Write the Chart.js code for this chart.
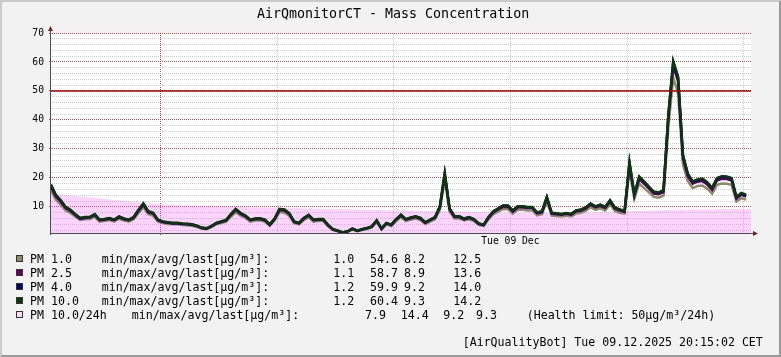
<!DOCTYPE html>
<html>
<head>
<meta charset="utf-8">
<script src="https://cdn.jsdelivr.net/npm/chart.js@4/dist/chart.umd.min.js"></script>
<style>
html, body { margin: 0; padding: 0; background: #f2f2f2; }
#wrap { position: relative; width: 781px; height: 357px; background: #f2f2f2; overflow: hidden;
        font-family: "DejaVu Sans Mono", monospace; color: #000; }
#chart { position: absolute; left: 0; top: 0; }
#frame { position: absolute; left: 0; top: 0; width: 781px; height: 357px; box-sizing: border-box;
         border-style: solid; border-width: 2px; border-color: #cbcbcb #999 #999 #cbcbcb; pointer-events: none; }
#title { position: absolute; left: 257px; top: 6px; font-size: 13.3px; line-height: 16px; white-space: pre; }
.t { position: absolute; white-space: pre; font-size: 11.6px; line-height: 14px; }
.sw { position: absolute; width: 5px; height: 5px; border: 1px solid #333; }
</style>
</head>
<body>
<div id="wrap">
  <canvas id="chart" width="781" height="357"></canvas>
  <div id="title">AirQmonitorCT - Mass Concentration</div>
  <div id="legend"></div>
  <div id="frame"></div>
</div>
<script>
// --- DATA (hours relative to midnight of Tue 09 Dec, 10 minute samples) ---
const startHour = -3.75;
const endHour = 20.25;
const stepHours = 1 / 6;
const avgStepHours = 1;

const pm1 = [15.6, 12.5, 10.8, 8.8, 7.9, 6.6, 5.5, 5.7, 5.8, 6.6, 4.9, 5.1, 5.5, 4.9, 5.9, 5.3, 4.9, 5.7, 7.9, 9.9,
  7.5, 7.0, 4.9, 4.4, 4.1, 4.0, 4.0, 3.8, 3.7, 3.5, 3.1, 2.5, 2.3, 3.0, 4.0, 4.4, 4.8, 6.6, 8.2, 7.0,
  6.2, 4.9, 5.3, 5.4, 4.9, 3.5, 5.3, 8.2, 8.0, 7.0, 4.4, 4.0, 5.5, 6.4, 4.9, 5.1, 5.1, 3.3, 2.0, 1.6,
  1.0, 1.4, 2.2, 1.6, 2.0, 2.4, 2.9, 4.8, 2.2, 4.0, 3.4, 5.1, 6.4, 5.1, 5.6, 6.0, 5.5, 4.1, 4.9, 5.7,
  9.0, 19.5, 8.4, 6.0, 6.0, 5.3, 5.7, 5.1, 3.8, 3.4, 5.7, 7.5, 8.4, 9.2, 9.2, 7.7, 9.0, 9.0, 8.8, 8.8,
  7.1, 7.5, 11.9, 7.0, 6.9, 6.7, 7.0, 6.7, 7.7, 8.0, 8.6, 9.9, 9.0, 9.5, 8.8, 10.8, 8.6, 8.0, 7.7, 22.6,
  12.8, 18.0, 16.5, 15.0, 13.5, 13.2, 13.9, 37.5, 54.6, 49.2, 24.6, 18.9, 16.5, 17.2, 17.4, 16.3, 14.6, 17.6, 18.1, 18.0,
  17.6, 11.9, 13.0, 12.5];

const pm25 = [16.9, 13.6, 11.8, 9.6, 8.6, 7.2, 5.9, 6.2, 6.3, 7.2, 5.4, 5.6, 5.9, 5.4, 6.4, 5.7, 5.4, 6.2, 8.6, 10.7,
  8.1, 7.7, 5.4, 4.8, 4.5, 4.3, 4.3, 4.1, 4.0, 3.8, 3.4, 2.7, 2.5, 3.3, 4.3, 4.8, 5.3, 7.2, 8.9, 7.6,
  6.7, 5.4, 5.7, 5.8, 5.4, 3.8, 5.7, 8.9, 8.7, 7.6, 4.8, 4.3, 5.9, 7.0, 5.4, 5.6, 5.6, 3.6, 2.2, 1.7,
  1.1, 1.5, 2.4, 1.7, 2.2, 2.6, 3.2, 5.2, 2.4, 4.3, 3.7, 5.6, 7.0, 5.6, 6.1, 6.5, 5.9, 4.5, 5.4, 6.2,
  9.8, 20.8, 9.1, 6.5, 6.5, 5.7, 6.2, 5.6, 4.1, 3.7, 6.2, 8.1, 9.1, 10.0, 10.0, 8.4, 9.8, 9.8, 9.6, 9.6,
  7.8, 8.1, 12.9, 7.7, 7.5, 7.3, 7.6, 7.3, 8.4, 8.7, 9.4, 10.7, 9.8, 10.3, 9.6, 11.8, 9.4, 8.7, 8.3, 24.4,
  13.9, 19.6, 18.0, 16.3, 14.6, 14.4, 15.1, 40.6, 58.7, 53.2, 26.8, 20.6, 18.0, 18.7, 18.9, 17.7, 15.9, 19.1, 19.7, 19.6,
  19.1, 12.9, 14.2, 13.6];

const pm4 = [17.5, 14.0, 12.2, 9.9, 8.9, 7.4, 6.1, 6.4, 6.5, 7.4, 5.5, 5.7, 6.1, 5.5, 6.6, 5.9, 5.5, 6.4, 8.9, 11.1,
  8.4, 7.9, 5.5, 4.9, 4.6, 4.4, 4.4, 4.2, 4.1, 3.9, 3.5, 2.8, 2.6, 3.4, 4.4, 4.9, 5.4, 7.4, 9.2, 7.8,
  6.9, 5.5, 5.9, 6.0, 5.5, 3.9, 5.9, 9.2, 9.0, 7.8, 4.9, 4.4, 6.1, 7.2, 5.5, 5.7, 5.7, 3.7, 2.3, 1.8,
  1.2, 1.6, 2.5, 1.8, 2.3, 2.7, 3.3, 5.3, 2.5, 4.4, 3.8, 5.7, 7.2, 5.7, 6.3, 6.7, 6.1, 4.6, 5.5, 6.4,
  10.1, 21.5, 9.4, 6.7, 6.7, 5.9, 6.4, 5.7, 4.2, 3.8, 6.4, 8.4, 9.4, 10.4, 10.4, 8.7, 10.1, 10.1, 9.9, 9.9,
  8.0, 8.4, 13.3, 7.9, 7.7, 7.5, 7.8, 7.5, 8.7, 9.0, 9.7, 11.1, 10.1, 10.7, 9.9, 12.2, 9.7, 9.0, 8.6, 25.2,
  14.3, 20.3, 18.6, 16.8, 15.1, 14.8, 15.6, 41.6, 59.9, 54.5, 27.7, 21.3, 18.6, 19.3, 19.6, 18.3, 16.4, 19.8, 20.4, 20.3,
  19.8, 13.4, 14.6, 14.0];

const pm10 = [17.7, 14.2, 12.3, 10.0, 9.0, 7.5, 6.2, 6.5, 6.6, 7.5, 5.6, 5.8, 6.2, 5.6, 6.7, 6.0, 5.6, 6.5, 9.0, 11.2,
  8.5, 8.0, 5.6, 5.0, 4.7, 4.5, 4.5, 4.3, 4.2, 4.0, 3.5, 2.8, 2.6, 3.4, 4.5, 5.0, 5.5, 7.5, 9.3, 7.9,
  7.0, 5.6, 6.0, 6.1, 5.6, 4.0, 6.0, 9.3, 9.1, 7.9, 5.0, 4.5, 6.2, 7.3, 5.6, 5.8, 5.8, 3.8, 2.3, 1.8,
  1.2, 1.6, 2.5, 1.8, 2.3, 2.7, 3.3, 5.4, 2.5, 4.5, 3.9, 5.8, 7.3, 5.8, 6.4, 6.8, 6.2, 4.7, 5.6, 6.5,
  10.2, 21.7, 9.5, 6.8, 6.8, 6.0, 6.5, 5.8, 4.3, 3.9, 6.5, 8.5, 9.5, 10.5, 10.5, 8.8, 10.2, 10.2, 10.0, 10.0,
  8.1, 8.5, 13.5, 8.0, 7.8, 7.6, 7.9, 7.6, 8.8, 9.1, 9.8, 11.2, 10.2, 10.8, 10.0, 12.3, 9.8, 9.1, 8.7, 25.5,
  14.5, 20.5, 18.8, 17.0, 15.3, 15.0, 15.8, 42.0, 60.4, 55.0, 28.0, 21.5, 18.8, 19.5, 19.8, 18.5, 16.6, 20.0, 20.6, 20.5,
  20.0, 13.5, 14.8, 14.2];

// PM 10.0 rolling 24h mean, hourly
const pm10avg24 = [14.6, 13.6, 12.6, 11.5, 10.7, 10.3, 10.1, 9.8, 9.6, 9.4, 9.2, 9.0, 8.8, 8.6, 8.4, 8.2, 8.0, 7.9, 8.0, 8.2,
  8.6, 8.9, 9.1, 9.2, 9.3];

const healthLimit = 50;

const yTicks = [2, 4, 6, 8, 10, 12, 14, 16, 18, 20, 22, 24, 26, 28, 30, 32, 34, 36, 38, 40,
  42, 44, 46, 48, 50, 52, 54, 56, 58, 60, 62, 64, 66, 68, 70];
const xTicks = [0, 4, 8, 12, 16, 20];
const xLabelHours = [12];
const xLabelTexts = ["Tue 09 Dec"];

const seriesNames = ["PM 1.0", "PM 2.5", "PM 4.0", "PM 10.0", "PM 10.0/24h"];
const seriesColors = ["#8c8c68", "#660066", "#000070", "#0b380b", "#f9d9f9"];
const statMin = [1.0, 1.1, 1.2, 1.2, 7.9];
const statMax = [54.6, 58.7, 59.9, 60.4, 14.4];
const statAvg = [8.2, 8.9, 9.2, 9.3, 9.2];
const statLast = [12.5, 13.6, 14.0, 14.2, 9.3];
const unitLabel = "min/max/avg/last[µg/m³]:";
const healthNote = "(Health limit: 50µg/m³/24h)";
const footer = "[AirQualityBot] Tue 09.12.2025 20:15:02 CET";

// --- STYLE ---
const majorGrid = "rgba(205,45,45,0.9)";
const minorGrid = "#cccccc";
const axisColor = "#4e4a55";
const arrowColor = "#7f1f1f";
const monoFont = "DejaVu Sans Mono";

function toPoints(values, step) {
    return values.map((v, i) => ({ x: startHour + i * step, y: v }));
}

// --- PLUGINS ---
const canvasBack = {
    id: "canvasBack",
    beforeDraw(chart) {
        const { ctx, chartArea: a } = chart;
        ctx.save();
        ctx.fillStyle = "#ffffff";
        ctx.fillRect(a.left, a.top, a.right - a.left, a.bottom - a.top);
        ctx.restore();
    }
};

// axis lines + arrows (rrdtool style)
const axisArrows = {
    id: "axisArrows",
    afterDraw(chart) {
        const { ctx, chartArea: a } = chart;
        ctx.save();
        ctx.setLineDash([]);
        ctx.strokeStyle = axisColor;
        ctx.lineWidth = 1;
        ctx.beginPath();
        ctx.moveTo(a.left - 1, a.bottom + 0.5);
        ctx.lineTo(a.right + 3, a.bottom + 0.5);
        ctx.moveTo(a.left - 0.5, a.bottom + 2);
        ctx.lineTo(a.left - 0.5, a.top - 2);
        ctx.stroke();
        ctx.fillStyle = arrowColor;
        ctx.beginPath();
        ctx.moveTo(a.right + 2, a.bottom - 2);
        ctx.lineTo(a.right + 7, a.bottom + 0.5);
        ctx.lineTo(a.right + 2, a.bottom + 3);
        ctx.closePath();
        ctx.fill();
        ctx.beginPath();
        ctx.moveTo(a.left - 3, a.top - 2);
        ctx.lineTo(a.left - 0.5, a.top - 7);
        ctx.lineTo(a.left + 2, a.top - 2);
        ctx.closePath();
        ctx.fill();
        ctx.restore();
    }
};

// --- CHART ---
const lineSet = (label, values, color, order) => ({
    label: label,
    data: toPoints(values, stepHours),
    borderColor: color,
    borderWidth: 2.5,
    pointRadius: 0,
    tension: 0,
    fill: false,
    order: order
});

const ctx = document.getElementById("chart").getContext("2d");
new Chart(ctx, {
    type: "line",
    data: {
        datasets: [
            {
                label: "limit",
                data: [{ x: startHour, y: healthLimit }, { x: endHour, y: healthLimit }],
                borderColor: "#b00000",
                borderWidth: 1.5,
                pointRadius: 0,
                fill: false,
                order: 0
            },
            lineSet(seriesNames[3], pm10, seriesColors[3], 1),
            lineSet(seriesNames[2], pm4, seriesColors[2], 2),
            lineSet(seriesNames[1], pm25, seriesColors[1], 3),
            lineSet(seriesNames[0], pm1, seriesColors[0], 4),
            {
                label: seriesNames[4],
                data: toPoints(pm10avg24, avgStepHours),
                borderWidth: 0,
                borderColor: "rgba(0,0,0,0)",
                backgroundColor: "rgba(245,110,245,0.3)",
                pointRadius: 0,
                tension: 0,
                fill: "start",
                order: 10
            }
        ]
    },
    options: {
        responsive: false,
        animation: false,
        events: [],
        layout: { padding: { left: 0, right: 30, top: 33, bottom: 104 } },
        plugins: { legend: { display: false }, tooltip: { enabled: false }, title: { display: false } },
        scales: {
            x: {
                type: "linear",
                min: startHour,
                max: endHour,
                afterBuildTicks: s => { s.ticks = xTicks.map(v => ({ value: v })); },
                afterFit: s => { s.height = 20; },
                grid: {
                    color: c => (c.tick && c.tick.value === 0 ? majorGrid : minorGrid),
                    lineWidth: 1,
                    drawTicks: true,
                    tickLength: 2,
                    tickColor: c => (c.tick && c.tick.value === 0 ? majorGrid : "rgba(0,0,0,0)")
                },
                border: { display: true, color: "rgba(0,0,0,0)", width: 1, dash: [1, 1] },
                ticks: {
                    autoSkip: false,
                    maxRotation: 0,
                    padding: 1,
                    color: "#000",
                    font: { family: monoFont, size: 9.7 },
                    callback: v => {
                        const k = xLabelHours.indexOf(v);
                        return k >= 0 ? xLabelTexts[k] : "";
                    }
                }
            },
            y: {
                min: 1,
                max: 70,
                afterBuildTicks: s => { s.ticks = yTicks.map(v => ({ value: v })); },
                afterFit: s => { s.width = 51; },
                grid: {
                    color: c => (c.tick && c.tick.value % 10 === 0 ? majorGrid : minorGrid),
                    lineWidth: 1,
                    drawTicks: true,
                    tickLength: 2,
                    tickColor: c => (c.tick && c.tick.value % 10 === 0 ? majorGrid : "rgba(0,0,0,0)")
                },
                border: { display: true, color: "rgba(0,0,0,0)", width: 1, dash: [1, 1] },
                ticks: {
                    autoSkip: false,
                    padding: 5,
                    color: "#000",
                    font: { family: monoFont, size: 9.7 },
                    callback: v => (v % 10 === 0 ? String(v) : "")
                }
            }
        }
    },
    plugins: [canvasBack, axisArrows]
});

// --- LEGEND ---
const legend = document.getElementById("legend");
function addText(x, top, str) {
    const d = document.createElement("div");
    d.className = "t";
    d.style.left = x + "px";
    d.style.top = top + "px";
    d.textContent = str;
    legend.appendChild(d);
}
const rowTop = 252, rowStep = 14;
const colPos = [
    [101.7, 333.3, 370, 404, 453.3],
    [101.7, 333.3, 370, 404, 453.3],
    [101.7, 333.3, 370, 404, 453.3],
    [101.7, 333.3, 370, 404, 453.3],
    [131.7, 365, 400.7, 443.3, 476]
];
seriesNames.forEach((name, i) => {
    const top = rowTop + i * rowStep;
    const sw = document.createElement("div");
    sw.className = "sw";
    sw.style.left = "16px";
    sw.style.top = (top + 3) + "px";
    sw.style.background = seriesColors[i];
    legend.appendChild(sw);
    addText(30, top, name);
    const c = colPos[i];
    addText(c[0], top, unitLabel);
    addText(c[1], top, statMin[i].toFixed(1));
    addText(c[2], top, statMax[i].toFixed(1));
    addText(c[3], top, statAvg[i].toFixed(1));
    addText(c[4], top, statLast[i].toFixed(1));
});
addText(526.7, rowTop + 4 * rowStep, healthNote);
addText(462.7, 335, footer);
</script>
</body>
</html>
